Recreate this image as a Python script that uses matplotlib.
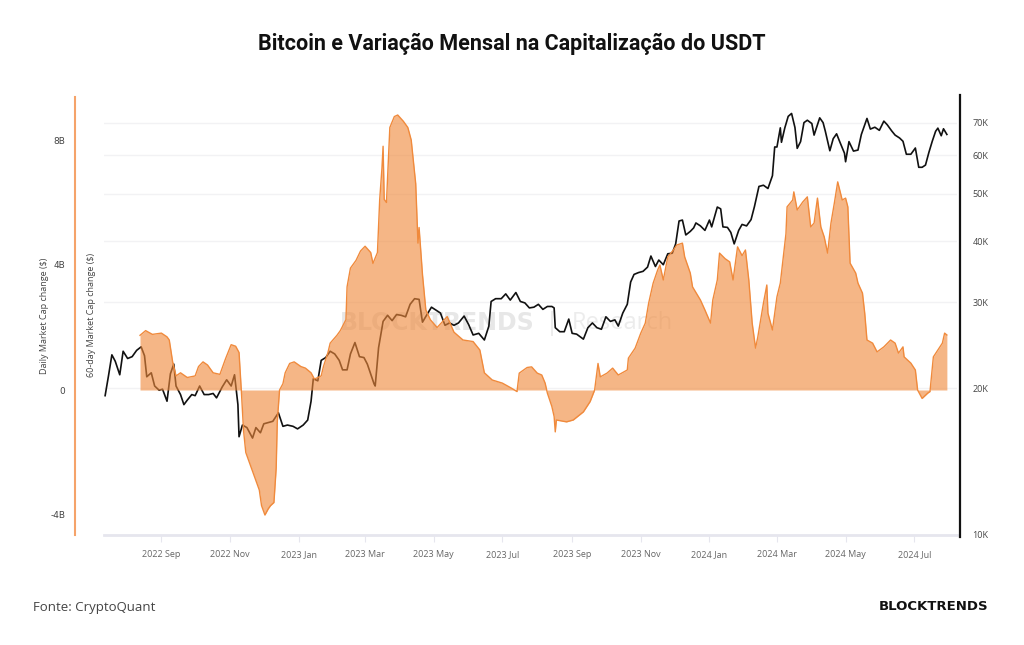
import matplotlib
matplotlib.use("Agg")
import matplotlib.pyplot as plt
import matplotlib.ticker as mticker
import numpy as np
import pandas as pd

# ---------------- data ----------------
btc_dates = [
    "2022-07-13","2022-07-16","2022-07-19","2022-07-22","2022-07-26","2022-07-29","2022-08-02","2022-08-06",
    "2022-08-10","2022-08-14","2022-08-17","2022-08-19","2022-08-23","2022-08-26","2022-08-30","2022-09-02",
    "2022-09-06","2022-09-09","2022-09-12","2022-09-14","2022-09-18","2022-09-21","2022-09-24","2022-09-28",
    "2022-10-01","2022-10-05","2022-10-09","2022-10-13","2022-10-17","2022-10-20","2022-10-25","2022-10-29",
    "2022-11-02","2022-11-05","2022-11-08","2022-11-09","2022-11-12","2022-11-16","2022-11-21","2022-11-24",
    "2022-11-28","2022-12-01","2022-12-05","2022-12-09","2022-12-14","2022-12-18","2022-12-22","2022-12-27",
    "2022-12-31","2023-01-05","2023-01-09","2023-01-12","2023-01-14","2023-01-18","2023-01-21","2023-01-25",
    "2023-01-29","2023-02-02","2023-02-06","2023-02-09","2023-02-13","2023-02-16","2023-02-20","2023-02-24",
    "2023-02-28","2023-03-03","2023-03-09","2023-03-10","2023-03-13","2023-03-17","2023-03-21","2023-03-25",
    "2023-03-29","2023-04-02","2023-04-06","2023-04-10","2023-04-14","2023-04-18","2023-04-21","2023-04-25",
    "2023-04-29","2023-05-03","2023-05-07","2023-05-11","2023-05-15","2023-05-19","2023-05-23","2023-05-28",
    "2023-06-01","2023-06-05","2023-06-10","2023-06-15","2023-06-19","2023-06-21","2023-06-25","2023-06-30",
    "2023-07-04","2023-07-08","2023-07-13","2023-07-17","2023-07-21","2023-07-25","2023-07-29","2023-08-02",
    "2023-08-06","2023-08-10","2023-08-14","2023-08-16","2023-08-17","2023-08-21","2023-08-25","2023-08-29",
    "2023-09-01","2023-09-05","2023-09-11","2023-09-15","2023-09-19","2023-09-23","2023-09-27","2023-10-01",
    "2023-10-05","2023-10-09","2023-10-12","2023-10-16","2023-10-20","2023-10-23","2023-10-26","2023-10-30",
    "2023-11-03","2023-11-07","2023-11-10","2023-11-14","2023-11-17","2023-11-21","2023-11-25","2023-11-29",
    "2023-12-02","2023-12-05","2023-12-08","2023-12-11","2023-12-15","2023-12-18","2023-12-20","2023-12-24",
    "2023-12-28","2024-01-01","2024-01-03","2024-01-08","2024-01-11","2024-01-13","2024-01-17","2024-01-20",
    "2024-01-23","2024-01-27","2024-01-30","2024-02-03","2024-02-07","2024-02-10","2024-02-14","2024-02-18",
    "2024-02-22","2024-02-26","2024-02-28","2024-03-01","2024-03-04","2024-03-05","2024-03-08","2024-03-11",
    "2024-03-14","2024-03-17","2024-03-19","2024-03-22","2024-03-25","2024-03-28","2024-04-01","2024-04-03",
    "2024-04-08","2024-04-11","2024-04-13","2024-04-17","2024-04-20","2024-04-23","2024-04-26","2024-04-30",
    "2024-05-01","2024-05-04","2024-05-08","2024-05-12","2024-05-15","2024-05-20","2024-05-23","2024-05-27",
    "2024-05-31","2024-06-04","2024-06-07","2024-06-11","2024-06-14","2024-06-18","2024-06-21","2024-06-24",
    "2024-06-28","2024-07-02","2024-07-05","2024-07-08","2024-07-11","2024-07-14","2024-07-17","2024-07-20",
    "2024-07-22","2024-07-25","2024-07-27","2024-07-29","2024-07-30",
]
btc_price_k = [
    19.3,21.2,23.4,22.7,21.3,23.8,23.0,23.2,
    23.9,24.3,23.3,21.1,21.5,20.2,19.8,19.9,
    18.8,21.4,22.4,20.2,19.4,18.5,18.9,19.4,
    19.3,20.2,19.4,19.4,19.5,19.1,20.1,20.8,
    20.2,21.3,18.5,15.9,16.8,16.6,15.8,16.6,
    16.2,16.9,17.0,17.1,17.8,16.7,16.8,16.7,
    16.5,16.8,17.2,18.8,20.9,20.7,22.8,23.1,
    23.8,23.5,22.8,21.8,21.8,23.5,24.8,23.2,
    23.1,22.4,20.4,20.2,24.2,27.4,28.2,27.5,
    28.3,28.2,28.0,29.7,30.5,30.4,27.3,28.3,
    29.3,28.9,28.5,26.9,27.2,26.9,27.2,28.1,
    27.0,25.7,25.9,25.1,26.8,30.1,30.5,30.5,
    31.2,30.3,31.4,30.1,29.9,29.2,29.3,29.7,
    29.0,29.4,29.4,29.2,26.6,26.1,26.1,27.7,
    25.9,25.8,25.2,26.6,27.2,26.6,26.4,28.0,
    27.4,27.6,26.8,28.5,29.7,33.0,34.2,34.5,
    34.7,35.4,37.3,35.5,36.6,35.8,37.7,37.8,
    39.5,44.0,44.2,41.2,41.9,42.6,43.6,43.0,
    42.1,44.2,42.8,47.0,46.6,42.8,42.7,41.7,
    39.5,42.1,43.3,43.0,44.3,47.1,51.8,52.1,
    51.3,54.5,62.4,62.4,68.3,63.8,68.3,72.1,
    73.1,68.4,62.0,64.0,70.0,70.8,69.7,66.0,
    71.6,70.0,67.2,61.3,64.9,66.4,63.8,60.6,
    58.2,64.0,61.2,61.5,66.2,71.4,67.9,68.5,
    67.5,70.5,69.3,67.3,66.0,65.1,64.1,60.3,
    60.3,62.1,56.7,56.7,57.3,60.8,64.1,67.2,
    68.2,65.8,68.0,66.8,66.2,
]

usdt_dates = [
    "2022-08-13","2022-08-18","2022-08-24","2022-09-01","2022-09-06","2022-09-08","2022-09-11","2022-09-14",
    "2022-09-18","2022-09-24","2022-10-01","2022-10-04","2022-10-08","2022-10-12","2022-10-17","2022-10-23",
    "2022-10-28","2022-11-02","2022-11-06","2022-11-09","2022-11-11","2022-11-13","2022-11-15","2022-11-19",
    "2022-11-23","2022-11-27","2022-11-29","2022-12-02","2022-12-05","2022-12-07","2022-12-10","2022-12-12",
    "2022-12-13","2022-12-15","2022-12-18","2022-12-20","2022-12-24","2022-12-28","2023-01-03","2023-01-07",
    "2023-01-12","2023-01-15","2023-01-21","2023-01-23","2023-01-27","2023-01-29","2023-02-04","2023-02-07",
    "2023-02-12","2023-02-13","2023-02-16","2023-02-21","2023-02-25","2023-03-01","2023-03-06","2023-03-08",
    "2023-03-12","2023-03-14","2023-03-16","2023-03-17","2023-03-18","2023-03-20","2023-03-23","2023-03-27",
    "2023-03-30","2023-04-04","2023-04-08","2023-04-11","2023-04-15","2023-04-17","2023-04-18","2023-04-21",
    "2023-04-24","2023-04-28","2023-05-04","2023-05-13","2023-05-19","2023-05-27","2023-06-05","2023-06-11",
    "2023-06-15","2023-06-22","2023-07-01","2023-07-09","2023-07-14","2023-07-16","2023-07-23","2023-07-27",
    "2023-08-01","2023-08-05","2023-08-08","2023-08-10","2023-08-14","2023-08-16","2023-08-17","2023-08-18",
    "2023-08-27","2023-09-02","2023-09-11","2023-09-17","2023-09-21","2023-09-24","2023-09-26","2023-10-02",
    "2023-10-07","2023-10-12","2023-10-20","2023-10-21","2023-10-27","2023-11-01","2023-11-05","2023-11-08",
    "2023-11-12","2023-11-16","2023-11-18","2023-11-21","2023-11-25","2023-11-30","2023-12-03","2023-12-08",
    "2023-12-10","2023-12-15","2023-12-17","2023-12-24","2023-12-28","2024-01-02","2024-01-04","2024-01-08",
    "2024-01-10","2024-01-15","2024-01-19","2024-01-22","2024-01-26","2024-01-30","2024-02-02","2024-02-05",
    "2024-02-08","2024-02-11","2024-02-13","2024-02-18","2024-02-21","2024-02-22","2024-02-26","2024-02-28",
    "2024-03-01","2024-03-04","2024-03-07","2024-03-09","2024-03-10","2024-03-15","2024-03-16","2024-03-19",
    "2024-03-24","2024-03-28","2024-03-31","2024-04-03","2024-04-06","2024-04-09","2024-04-12","2024-04-15",
    "2024-04-18","2024-04-21","2024-04-24","2024-04-28","2024-05-01","2024-05-03","2024-05-05","2024-05-10",
    "2024-05-12","2024-05-16","2024-05-18","2024-05-20","2024-05-25","2024-05-29","2024-06-04","2024-06-10",
    "2024-06-14","2024-06-17","2024-06-21","2024-06-22","2024-06-28","2024-07-02","2024-07-04","2024-07-08",
    "2024-07-13","2024-07-15","2024-07-18","2024-07-22","2024-07-26","2024-07-28","2024-07-30",
]
usdt_change_b = [
    1.75,1.90,1.78,1.82,1.70,1.60,0.90,0.45,
    0.55,0.40,0.45,0.75,0.90,0.80,0.55,0.50,
    1.00,1.45,1.40,1.20,0.00,-1.30,-2.00,-2.40,
    -2.80,-3.20,-3.70,-4.00,-3.80,-3.70,-3.60,-2.50,
    -1.00,0.00,0.20,0.55,0.85,0.90,0.75,0.70,
    0.55,0.35,0.45,0.75,1.20,1.50,1.75,1.90,
    2.25,3.30,3.90,4.15,4.45,4.60,4.40,4.05,
    4.40,6.10,7.10,7.80,6.10,6.00,8.40,8.75,
    8.80,8.60,8.40,8.00,6.60,4.70,5.20,3.70,
    2.56,2.25,2.00,2.35,1.85,1.60,1.55,1.28,
    0.55,0.32,0.22,0.06,-0.05,0.54,0.72,0.74,
    0.54,0.48,0.22,-0.10,-0.53,-0.85,-1.34,-0.96,
    -1.02,-0.96,-0.70,-0.37,0.00,0.85,0.42,0.54,
    0.70,0.48,0.64,1.02,1.34,1.82,2.14,2.78,
    3.42,3.84,4.00,3.52,4.26,4.48,4.64,4.70,
    4.26,3.74,3.30,2.88,2.56,2.14,2.88,3.52,
    4.38,4.20,4.10,3.52,4.58,4.30,4.48,3.52,
    2.14,1.34,1.70,2.78,3.36,2.46,1.92,2.46,
    2.98,3.42,4.38,5.00,5.86,6.08,6.34,5.76,
    6.02,6.18,5.22,5.34,6.14,5.22,4.90,4.38,
    5.34,5.98,6.66,6.08,6.14,5.86,4.06,3.74,
    3.42,3.10,2.46,1.60,1.50,1.22,1.38,1.60,
    1.50,1.18,1.38,1.06,0.86,0.64,0.00,-0.27,
    -0.10,-0.05,1.06,1.28,1.50,1.82,1.76,
]

left_ticks_b = [-4, 0, 4, 8]
left_tick_labels = ["-4B", "0", "4B", "8B"]
right_ticks_k = [10, 20, 30, 40, 50, 60, 70]
right_tick_labels = ["10K", "20K", "30K", "40K", "50K", "60K", "70K"]
month_ticks = ["2022-09-01","2022-11-01","2023-01-01","2023-03-01","2023-05-01","2023-07-01",
               "2023-09-01","2023-11-01","2024-01-01","2024-03-01","2024-05-01","2024-07-01"]
month_labels = ["2022 Sep","2022 Nov","2023 Jan","2023 Mar","2023 May","2023 Jul",
                "2023 Sep","2023 Nov","2024 Jan","2024 Mar","2024 May","2024 Jul"]

# ---------------- figure ----------------
W, H = 1024, 645
fig = plt.figure(figsize=(W / 100, H / 100), dpi=100)
fig.patch.set_facecolor("white")

x0, x1, ytop, ybot = 104, 957, 97, 535
rect = [x0 / W, 1 - ybot / H, (x1 - x0) / W, (ybot - ytop) / H]

ax_btc = fig.add_axes(rect)
ax_usdt = ax_btc.twinx()

bd = pd.to_datetime(btc_dates)
ud = pd.to_datetime(usdt_dates)
btc = np.array(btc_price_k) * 1000
usdt = np.array(usdt_change_b) * 1e9

# watermark (behind everything in the plot)
ax_btc.text(340 / W, 1 - 323 / H, "BLOCKTRENDS", fontsize=17, fontweight="bold", color="#e7e7e7",
            ha="left", va="center", family="DejaVu Sans", transform=fig.transFigure, zorder=0)
ax_btc.text(548 / W, 1 - 323 / H, "|", fontsize=17, color="#ececec",
            ha="left", va="center", family="DejaVu Sans", transform=fig.transFigure, zorder=0)
ax_btc.text(572 / W, 1 - 323 / H, "Research", fontsize=17, color="#ececec",
            ha="left", va="center", family="Open Sans", transform=fig.transFigure, zorder=0)

# BTC (log, right side)
ax_btc.set_yscale("log")
ax_btc.plot(bd, btc, color="#111111", lw=1.2, zorder=3)
ax_btc.set_ylim(10000, 79000)
ax_btc.yaxis.tick_right()
ax_btc.yaxis.set_label_position("right")
ax_btc.yaxis.set_major_locator(mticker.FixedLocator([v * 1000 for v in right_ticks_k]))
ax_btc.yaxis.set_major_formatter(mticker.FixedFormatter(right_tick_labels))
ax_btc.yaxis.set_minor_locator(mticker.NullLocator())
ax_btc.tick_params(axis="y", which="both", length=0, pad=11, labelsize=6.5, labelcolor="#444444")
for t in ax_btc.get_yticklabels():
    t.set_fontfamily("Open Sans")
ax_btc.grid(axis="y", color="#f2f2f4", lw=1.0)
ax_btc.set_axisbelow(True)

# USDT (linear, left side)
ax_usdt.fill_between(ud, 0, usdt, color="#f08a3c", alpha=0.62, lw=0, zorder=2)
ax_usdt.plot(ud, usdt, color="#f08a3c", lw=1.0, zorder=3)
ymin = -(ybot - 390) / 125 * 4e9
ymax = (390 - ytop) / 125 * 4e9
ax_usdt.set_ylim(ymin, ymax)
ax_usdt.yaxis.tick_left()
ax_usdt.yaxis.set_label_position("left")
ax_usdt.set_yticks([v * 1e9 for v in left_ticks_b])
ax_usdt.set_yticklabels(left_tick_labels)
ax_usdt.tick_params(axis="y", length=0, pad=7, labelsize=6.5, labelcolor="#444444")
for t in ax_usdt.get_yticklabels():
    t.set_fontfamily("Open Sans")
ax_usdt.set_ylabel("Daily Market Cap change ($)", fontsize=6.5, color="#444444",
                   family="Open Sans", labelpad=1)

# spines
for a in (ax_btc, ax_usdt):
    a.spines["top"].set_visible(False)
ax_btc.spines["left"].set_visible(False)
ax_usdt.spines["right"].set_visible(False)
ax_btc.spines["right"].set_visible(False)
ax_usdt.spines["left"].set_position(("outward", 29 * 0.72))
ax_usdt.spines["left"].set_color("#f5a36a")
ax_usdt.spines["left"].set_linewidth(1.5)
ax_usdt.spines["bottom"].set_visible(False)
ax_btc.spines["bottom"].set_color("#e6e6ee")
ax_btc.spines["bottom"].set_linewidth(2)

# right black axis line
fig.add_artist(plt.Line2D([960 / W, 960 / W], [1 - 537 / H, 1 - 95 / H],
                          color="#111111", lw=1.6, transform=fig.transFigure))

# x axis
ax_btc.set_xlim(pd.Timestamp("2022-07-12"), pd.Timestamp("2024-08-08"))
ax_btc.set_xticks(pd.to_datetime(month_ticks))
ax_btc.set_xticklabels(month_labels)
ax_btc.tick_params(axis="x", length=5, color="#e6e6ee", pad=6, labelsize=6.5, labelcolor="#666666")
for t in ax_btc.get_xticklabels():
    t.set_fontfamily("Open Sans")

# second y label
fig.text(92 / W, 1 - 315 / H, "60-day Market Cap change ($)", rotation=90, ha="center", va="center",
         fontsize=6.5, color="#444444", family="Open Sans")

# title & footer
fig.text(512 / W, 1 - 44 / H, "Bitcoin e Variação Mensal na Capitalização do USDT",
         ha="center", va="center", fontsize=15.5, fontweight="bold", family="Roboto", color="#111111")
fig.text(33 / W, 1 - 607 / H, "Fonte: CryptoQuant", ha="left", va="center",
         fontsize=9.5, family="Open Sans", color="#444444")
fig.text(988 / W, 1 - 607 / H, "BLOCKTRENDS", ha="right", va="center",
         fontsize=9.5, fontweight="bold", family="DejaVu Sans", color="#111111")

fig.savefig("out.png", dpi=100, facecolor="white")
